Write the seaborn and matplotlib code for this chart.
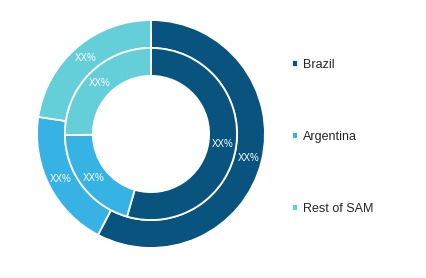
import matplotlib
matplotlib.use("Agg")
import matplotlib.pyplot as plt
import seaborn as sns

categories = ["Brazil", "Argentina", "Rest of SAM"]
outer_values = [57.7, 19.7, 22.6]
inner_values = [54.5, 20.3, 25.2]
label_text = "XX%"

sns.set_theme(style="white")
plt.rcParams["font.family"] = ["Liberation Sans", "DejaVu Sans"]
colors = sns.color_palette(["#08547F", "#36B3E4", "#64CFD9"])

fig = plt.figure(figsize=(4.26, 2.78), dpi=100)
ax = fig.add_axes([0.0869, 0.108, 0.535, 0.820])

wedge_kw = dict(edgecolor="white", linewidth=1.3)
text_kw = dict(color="white", fontsize=7)

outer, _, _ = ax.pie(outer_values, radius=1.0, startangle=90, counterclock=False,
                     colors=colors, autopct=lambda p: label_text, pctdistance=0.885,
                     wedgeprops=dict(width=0.245, **wedge_kw), textprops=text_kw)
ax.pie(inner_values, radius=0.755, startangle=90, counterclock=False,
       colors=colors, autopct=lambda p: label_text, pctdistance=0.837,
       wedgeprops=dict(width=0.245, **wedge_kw), textprops=text_kw)
ax.set_xlim(-1, 1)
ax.set_ylim(-1, 1)
ax.set_aspect("equal")

fig.legend(outer, categories, loc="upper left", bbox_to_anchor=(292 / 426, 1 - 59 / 278),
           frameon=False, fontsize=9, handlelength=0.5, handleheight=0.5,
           handletextpad=0.4, labelspacing=4.8, borderpad=0, borderaxespad=0)

fig.savefig("out.png", dpi=100)
